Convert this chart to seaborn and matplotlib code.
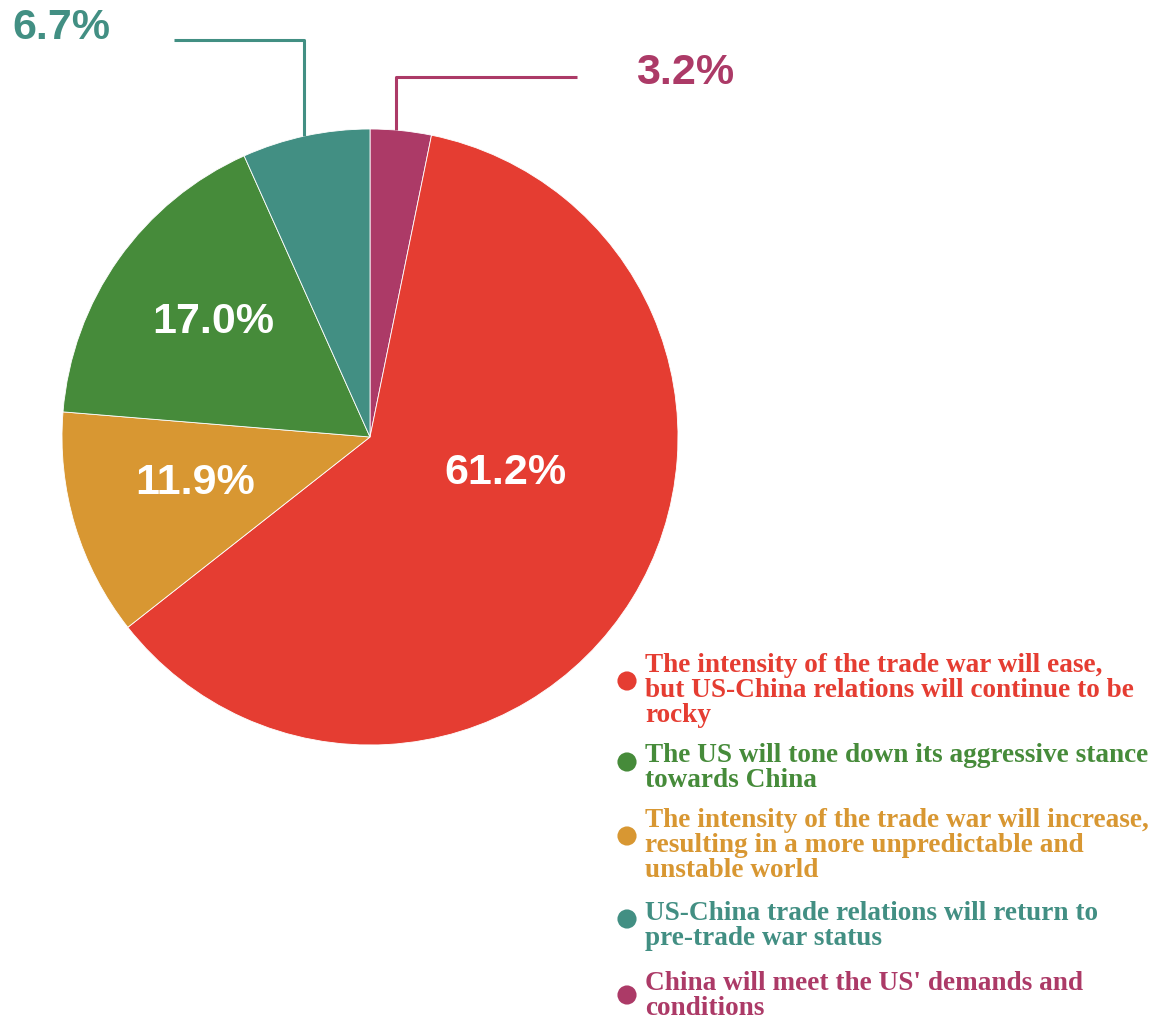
import matplotlib
matplotlib.use("Agg")
import matplotlib.pyplot as plt
import seaborn as sns
import numpy as np

# Survey answers, listed clockwise from the top of the pie
answers = [
    "China will meet the US' demands and\nconditions",
    "The intensity of the trade war will ease,\nbut US-China relations will continue to be\nrocky",
    "The intensity of the trade war will increase,\nresulting in a more unpredictable and\nunstable world",
    "The US will tone down its aggressive stance\ntowards China",
    "US-China trade relations will return to\npre-trade war status",
]
shares = [3.2, 61.2, 11.9, 17.0, 6.7]
colors = ["#AC3A67", "#E53D32", "#D89732", "#468B3A", "#428F83"]

# Legend order (top to bottom), as indices into the lists above
legend_order = [1, 3, 2, 4, 0]

sns.set_theme(style="white")
plt.rcParams["font.family"] = ["Liberation Sans", "DejaVu Sans"]

W, H = 1163, 1021
fig = plt.figure(figsize=(W / 100, H / 100), dpi=100)
ax = fig.add_axes([0, 0, 1, 1])

cx, cy, R = 370, 437, 308
wedges, _ = ax.pie(
    shares, colors=colors, center=(cx, cy), radius=R,
    startangle=-90, counterclock=True,
    wedgeprops=dict(linewidth=0.6, edgecolor="white", antialiased=True),
    frame=True,
)
ax.set_xlim(0, W)
ax.set_ylim(H, 0)
ax.set_aspect("equal")
ax.axis("off")

pct_font = dict(fontsize=31, fontweight="bold", family=["Liberation Sans", "DejaVu Sans"])

# Labels inside the larger slices
inside = {1: (505, 473), 2: (195, 483), 3: (213, 322)}
for i, (x, y) in inside.items():
    ax.text(x, y, f"{shares[i]:.1f}%", color="white", ha="center", va="center", **pct_font)

# Leader lines and labels for the two thin slices
def edge_y(x):
    return cy - np.sqrt(R**2 - (x - cx) ** 2)

# teal slice
tx = 304
ax.plot([tx, tx, 174], [edge_y(tx), 40, 40], color=colors[4], lw=2.2, solid_capstyle="butt")
ax.text(12, 28, f"{shares[4]:.1f}%", color=colors[4], ha="left", va="center", **pct_font)
# purple slice
px = 396
ax.plot([px, px, 577], [edge_y(px), 77, 77], color=colors[0], lw=2.2, solid_capstyle="butt")
ax.text(636, 73, f"{shares[0]:.1f}%", color=colors[0], ha="left", va="center", **pct_font)

# Legend: coloured dot and multi-line bold serif caption
first_baselines = [672, 762, 827, 920, 990]
dot_y = [681, 762, 836, 919, 995]
line_step = 25
for k, i in enumerate(legend_order):
    ax.scatter([627], [dot_y[k]], s=190, color=colors[i], edgecolors="none", zorder=3)
    for j, line in enumerate(answers[i].split("\n")):
        ax.text(645, first_baselines[k] + j * line_step, line, color=colors[i],
                ha="left", va="baseline", fontsize=19.6, fontweight="bold",
                family=["Liberation Serif", "DejaVu Serif"])

fig.savefig("out.png", dpi=100, facecolor="white")
